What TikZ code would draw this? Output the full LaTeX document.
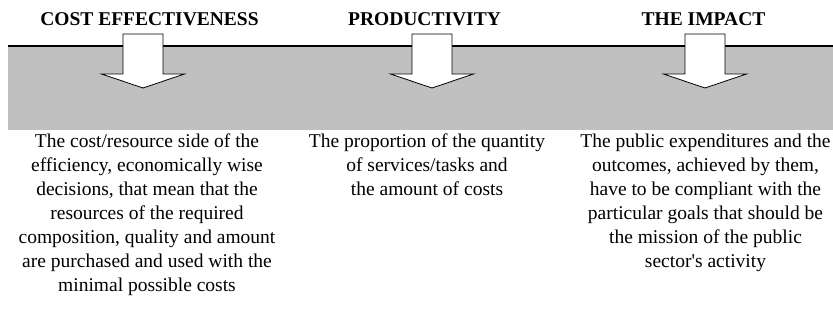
\documentclass[tikz,border=0pt]{standalone}
\usepackage{fontspec}
\setmainfont{Liberation Serif}
\begin{document}
\begin{tikzpicture}[x=1pt,y=-1pt,
  band/.style={fill=bandgrey,draw=none},
  topline/.style={line width=2pt,black},
  blockarrow/.style={fill=white,draw=black,line width=0.8pt,line join=miter},
  head/.style={font={\bfseries\fontsize{19.5}{24}\selectfont},inner sep=0pt,anchor=base},
  body/.style={font={\fontsize{19.5}{24}\selectfont},inner sep=0pt,anchor=north,align=center}]
\definecolor{bandgrey}{HTML}{C0C0C0}
\useasboundingbox (0,0) rectangle (833,326);
% grey band
\fill[band] (8,46) rectangle (833,130);
\draw[topline] (8,46) -- (833,46);
% block arrows
\foreach \cx/\nm in {143/a1,432/a2,705/a3}{
  \draw[blockarrow] (\cx-20,34) -- (\cx+20,34) -- (\cx+20,74) -- (\cx+41.5,74)
     -- (\cx,88) -- (\cx-41.5,74) -- (\cx-20,74) -- cycle;
  \coordinate (\nm) at (\cx,88);
}
% headers
\node[head] (h1) at (149.5,25.5) {COST EFFECTIVENESS};
\node[head] (h2) at (424.5,25.5) {PRODUCTIVITY};
\node[head] (h3) at (703.5,25.5) {THE IMPACT};
% descriptions
\node[body] (t1) at (147,133.5) {The cost/resource side of the\\efficiency, economically wise\\decisions, that mean that the\\resources of the required\\composition, quality and amount\\are purchased and used with the\\minimal possible costs};
\node[body] (t2) at (427,133.5) {The proportion of the quantity\\of services/tasks and\\the amount of costs};
\node[body] (t3) at (705.5,133.5) {The public expenditures and the\\outcomes, achieved by them,\\have to be compliant with the\\particular goals that should be\\the mission of the public\\sector\textquotesingle s activity};
\end{tikzpicture}
\end{document}
